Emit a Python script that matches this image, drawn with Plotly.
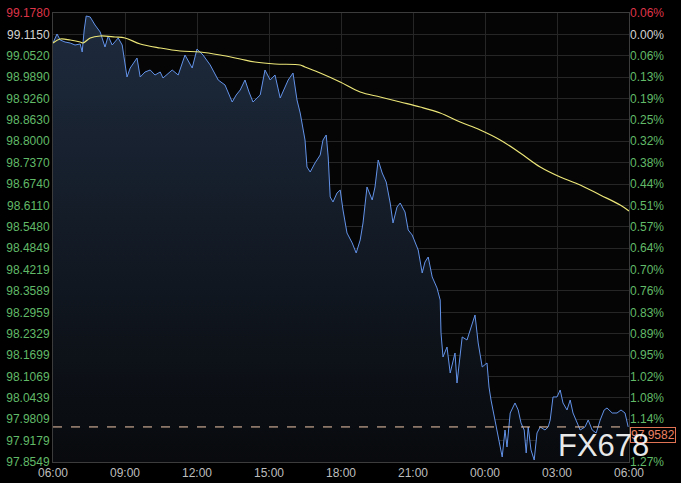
import plotly.graph_objects as go
from datetime import datetime, timedelta

# ---------------- data ----------------
price_times = ["06:00","06:10","06:18","06:30","06:43","06:55","07:08","07:13","07:18","07:23",
               "07:33","07:45","07:58","08:10","08:18","08:28","08:43","08:53","09:05","09:13",
               "09:30","09:38","09:50","10:03","10:15","10:28","10:35","10:48","10:58","11:13",
               "11:30","11:48","12:00","12:15","12:33","12:53","13:10","13:28","13:38","13:48",
               "14:00","14:10","14:20","14:38","14:50","15:03","15:15","15:28","15:38","15:48",
               "16:00","16:10","16:18","16:30","16:35","16:43","16:55","17:08","17:15","17:23",
               "17:28","17:33","17:40","17:50","17:58","18:05","18:15","18:28","18:38","18:48",
               "18:55","19:05","19:18","19:25","19:33","19:43","19:53","20:03","20:10","20:20",
               "20:28","20:40","20:48","20:58","21:13","21:23","21:30","21:38","21:48","22:00",
               "22:08","22:10","22:15","22:25","22:33","22:45","22:50","23:03","23:15","23:28",
               "23:35","23:43","23:53","00:05","00:10","00:15","00:23","00:30","00:38","00:43",
               "00:50","00:55","01:03","01:15","01:23","01:30","01:38","01:43","01:48","01:55",
               "02:03","02:10","02:18","02:30","02:38","02:43","02:50","03:00","03:08","03:15",
               "03:25","03:33","03:40","03:48","03:58","04:10","04:18","04:28","04:38","04:48",
               "04:58","05:05","05:18","05:30","05:40","05:50","05:58"]
price_values = [99.0896,99.1161,99.0984,99.0925,99.0896,99.0837,99.0867,99.0631,99.1279,99.1692,
                99.1662,99.1426,99.1220,99.0778,99.1102,99.0837,99.1043,99.0837,98.9894,99.0159,
                99.0454,98.9894,99.0041,99.0100,98.9953,99.0041,98.9865,99.0012,99.0100,98.9953,
                99.0542,99.0159,99.0719,99.0542,99.0248,98.9806,98.9658,98.9157,98.9364,98.9511,
                98.9806,98.9452,98.9157,98.9364,99.0100,98.9806,98.9953,98.9275,98.9570,98.9806,
                99.0012,98.9216,98.8833,98.8038,98.7242,98.7095,98.7360,98.7596,98.8038,98.8185,
                98.7537,98.6358,98.6211,98.6476,98.6564,98.5975,98.5297,98.5003,98.4708,98.5091,
                98.5592,98.6653,98.6270,98.6653,98.7448,98.7065,98.6800,98.6181,98.5592,98.6063,
                98.6181,98.5916,98.5386,98.5238,98.4796,98.4119,98.4443,98.4590,98.4001,98.3677,
                98.3323,98.2351,98.1643,98.1938,98.1172,98.1761,98.0877,98.2233,98.2144,98.2645,
                98.2881,98.2056,98.1349,98.1467,98.0759,98.0376,97.9875,97.9404,97.8991,97.8697,
                97.9492,97.8991,97.9993,98.0288,98.0082,97.9699,97.9492,97.8815,97.9581,97.8903,
                97.8608,97.9404,97.9581,97.9492,97.9581,97.9787,98.0465,98.0465,98.0671,98.0288,
                98.0082,98.0376,97.9993,97.9787,97.9492,97.9581,97.9787,97.9492,97.9404,97.9787,
                98.0082,98.0141,97.9993,97.9993,98.0082,97.9993,97.9582]

avg_times = ["06:00","06:18","06:43","07:08","07:15","07:33","07:58","08:35","09:00","09:38",
             "10:28","11:18","12:08","12:58","13:48","14:25","15:15","16:18","16:30","17:08",
             "17:58","18:48","19:38","20:28","21:18","22:08","22:58","23:48","00:38","01:28",
             "02:18","03:08","03:58","04:48","05:38","06:00"]
avg_values = [99.0896,99.1014,99.0984,99.0925,99.0896,99.1043,99.1102,99.1073,99.1043,99.0867,
              99.0749,99.0660,99.0631,99.0542,99.0424,99.0336,99.0277,99.0248,99.0189,99.0012,
              98.9747,98.9452,98.9305,98.9157,98.9010,98.8833,98.8568,98.8332,98.8038,98.7655,
              98.7242,98.6947,98.6712,98.6417,98.6122,98.5946]

y_ticks = [99.1780,99.1150,99.0520,98.9890,98.9260,98.8630,98.8000,98.7370,98.6740,98.6110,
           98.5480,98.4849,98.4219,98.3589,98.2959,98.2329,98.1699,98.1069,98.0439,97.9809,
           97.9179,97.8549]
ref_price = 99.1150
last_price = 97.9582
x_tick_labels = ["06:00","09:00","12:00","15:00","18:00","21:00","00:00","03:00","06:00"]

# ---------------- helpers ----------------
def to_dt(times, start="2024-01-01"):
    base = datetime.fromisoformat(start)
    out, day, prev = [], 0, None
    for t in times:
        h, m = map(int, t.split(":"))
        mins = h * 60 + m
        if prev is not None and mins < prev:
            day += 1
        prev = mins
        out.append(base + timedelta(days=day, hours=h, minutes=m))
    return out

px = to_dt(price_times)
ax = to_dt(avg_times)
x0 = datetime(2024, 1, 1, 6, 0)
x1 = datetime(2024, 1, 2, 6, 0)
ymin, ymax = min(y_ticks), max(y_ticks)
step = y_ticks[0] - y_ticks[1]

RED = "rgb(222,52,72)"
GREEN = "rgb(96,186,104)"
GRAY = "rgb(210,210,210)"

def col(v):
    if abs(v - ref_price) < 1e-6:
        return GRAY
    return RED if v > ref_price else GREEN

left_text = [f'<span style="color:{col(v)}">{v:.4f}</span>' for v in y_ticks]
# the right-hand label that sits under the last-price box is hidden, as in the source chart
right_text = [("" if 0 < last_price - v < step * 0.8 else
               f'<span style="color:{col(v)}">{abs(v - ref_price) / ref_price * 100:.2f}%</span>')
              for v in y_ticks]

x_tick_vals = [x0 + timedelta(hours=3 * i) for i in range(len(x_tick_labels))]

FONT = "Arial, Liberation Sans, sans-serif"

fig = go.Figure()

fig.add_trace(go.Scatter(
    x=px, y=price_values, mode="lines",
    line=dict(color="rgb(98,146,232)", width=1),
    fill="tozeroy",
    fillgradient=dict(type="vertical",
                      colorscale=[[0, "rgb(8,10,13)"], [1, "rgb(30,43,62)"]],
                      start=ymin, stop=ymax),
    hoverinfo="skip", showlegend=False))

fig.add_trace(go.Scatter(
    x=ax, y=avg_values, mode="lines", line=dict(color="rgb(236,230,120)", width=1.2, shape="spline"),
    hoverinfo="skip", showlegend=False))

fig.add_trace(go.Scatter(
    x=[px[-1]], y=[last_price], yaxis="y2", mode="markers",
    marker=dict(size=1, opacity=0), hoverinfo="skip", showlegend=False))

fig.add_shape(type="line", xref="x", yref="y", x0=x0, x1=x1, y0=last_price, y1=last_price,
              line=dict(color="rgb(240,200,170)", width=1, dash="dash"))

fig.add_annotation(x=1, xref="paper", xanchor="left", y=last_price, yref="y", yanchor="top",
                   text=f"{last_price:.4f}", showarrow=False,
                   font=dict(family=FONT, size=12, color="rgb(235,130,100)"),
                   bgcolor="black", bordercolor="rgb(225,115,85)", borderwidth=1, borderpad=0,
                   xshift=1)

fig.add_annotation(x=0.955, xref="paper", y=97.905, yref="y", text="FX678", showarrow=False,
                   font=dict(family=FONT, size=31, color="rgba(255,255,255,0.92)"),
                   xanchor="center", yanchor="middle")

grid = "rgb(38,38,38)"
fig.update_layout(
    width=681, height=483,
    margin=dict(l=53, r=52, t=13, b=21, autoexpand=False),
    paper_bgcolor="black", plot_bgcolor="rgb(5,5,5)",
    font=dict(family=FONT, size=12),
    xaxis=dict(range=[x0, x1], tickvals=x_tick_vals, ticktext=x_tick_labels,
               showgrid=True, gridcolor=grid, gridwidth=1, zeroline=False,
               showline=True, linecolor="rgb(60,60,60)", mirror=True, automargin=False,
               ticks="", tickfont=dict(color="rgb(190,190,190)", size=12)),
    yaxis=dict(range=[ymin, ymax], tickvals=y_ticks, ticktext=left_text,
               showgrid=True, gridcolor=grid, gridwidth=1, zeroline=False,
               showline=True, linecolor="rgb(60,60,60)", mirror=True, automargin=False,
               ticks="", tickfont=dict(size=12)),
    yaxis2=dict(range=[ymin, ymax], overlaying="y", side="right", tickvals=y_ticks,
                ticktext=right_text, showgrid=False, zeroline=False, ticks="", automargin=False,
                tickfont=dict(size=12)),
)

fig.write_html("out.html", config={"displayModeBar": False},
               post_script="document.body.style.margin='0';document.body.style.background='black';")
